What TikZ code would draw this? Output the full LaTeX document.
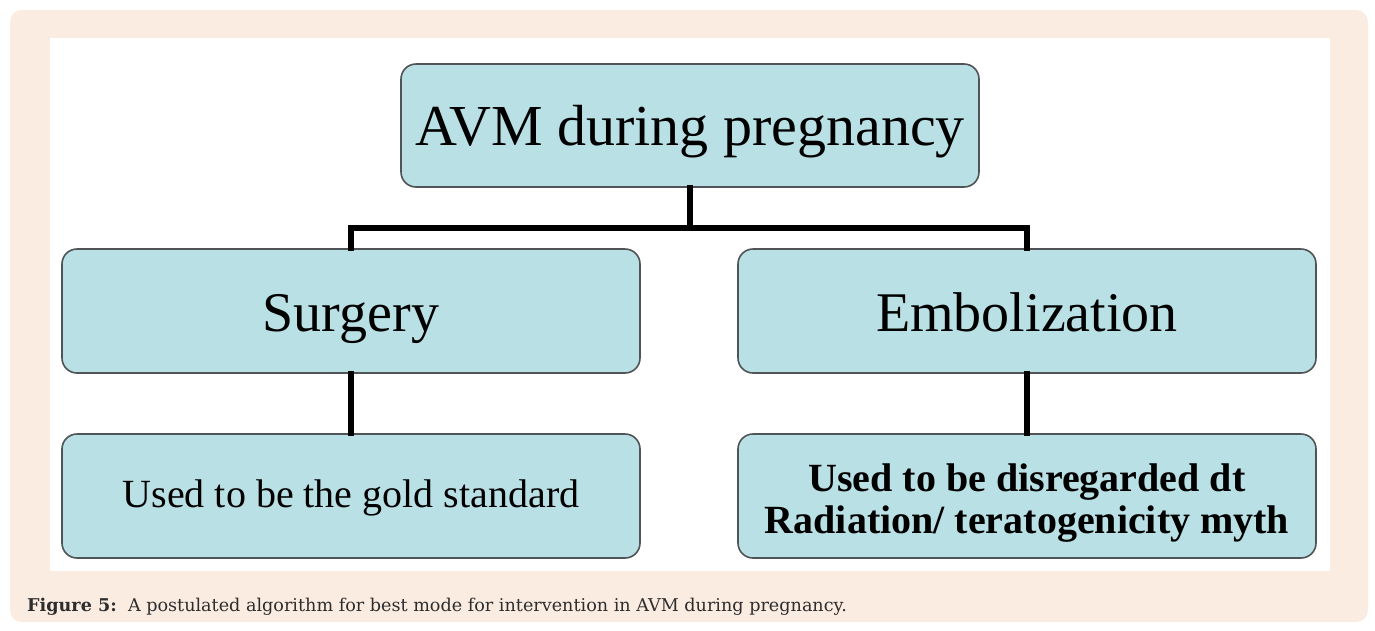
\documentclass[tikz,border=0pt]{standalone}
\usepackage{fontspec}
\setmainfont{Liberation Serif}
\newfontfamily\capfont{DejaVu Serif}
\definecolor{peach}{RGB}{251,236,226}
\definecolor{boxfill}{RGB}{185,224,228}
\definecolor{boxline}{RGB}{80,84,86}
\definecolor{captext}{RGB}{45,45,45}
\tikzset{
  box/.style={draw=boxline, line width=1.6pt, fill=boxfill, rounded corners=15pt,
    minimum width=578pt, minimum height=124pt, inner sep=0pt, anchor=center, align=center},
  conn/.style={line width=5.5pt, black, line join=miter, line cap=rect},
}
\begin{document}
\begin{tikzpicture}[x=1pt,y=-1pt]
\useasboundingbox (0,0) rectangle (1375,630);
\fill[white] (0,0) rectangle (1375,630);
\fill[peach, rounded corners=12pt] (10,10) rectangle (1368,622);
\fill[white] (50,38) rectangle (1330,571);

\node[box, minimum height=123pt, text height=40pt, text depth=0pt,
  font=\fontsize{58}{60}\selectfont] (top) at (690,125.5) {AVM during pregnancy};
\node[box, text height=40pt, text depth=0pt,
  font=\fontsize{56}{60}\selectfont] (surg) at (351,311) {Surgery};
\node[box, text height=40pt, text depth=0pt,
  font=\fontsize{56}{60}\selectfont] (emb) at (1027,311) {Embolization};
\node[box, text height=22pt, text depth=0pt,
  font=\fontsize{40}{42}\selectfont] (gold) at (351,496) {Used to be the gold standard};
\node[box, font=\fontsize{40}{42}\selectfont\bfseries] (rad) at (1027,496)
  {\rule{0pt}{41pt}Used to be disregarded dt\\Radiation/ teratogenicity myth};

\coordinate (bus) at (690,228);
\draw[conn] (top.south) -- (bus);
\draw[conn] (surg.north) |- (bus) -| (emb.north);
\draw[conn] (surg.south) -- (gold.north);
\draw[conn] (emb.south) -- (rad.north);

\node[anchor=base west, inner sep=0pt, text=captext,
  font=\capfont\fontsize{17.6}{20}\selectfont] (cap) at (27,611)
  {\textbf{Figure 5:}\ \ A postulated algorithm for best mode for intervention in AVM during pregnancy.};
\end{tikzpicture}
\end{document}
